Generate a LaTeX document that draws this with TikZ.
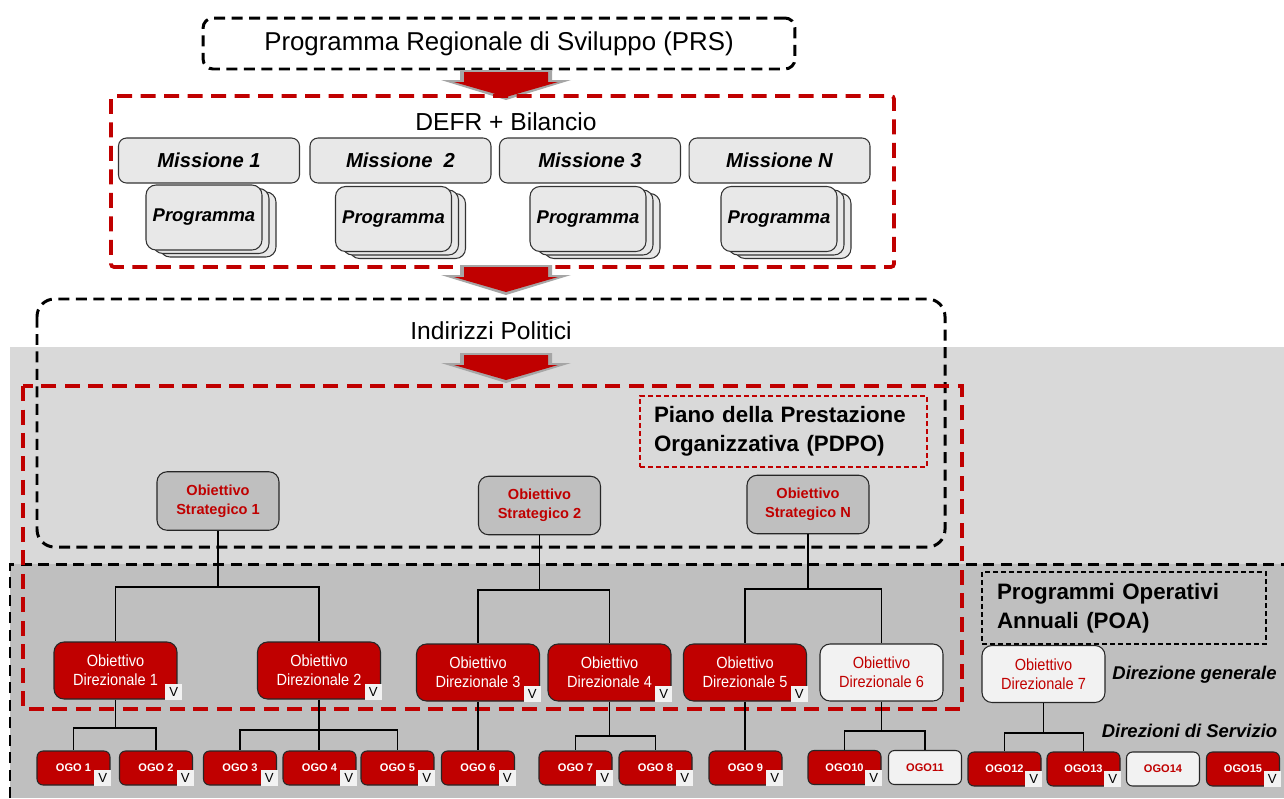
\documentclass[tikz,border=0pt]{standalone}
\usepackage{fontspec}
\setmainfont{Liberation Sans}
\newfontfamily\narrowfont{Liberation Sans}[FakeStretch=0.9]
\definecolor{darkred}{HTML}{C00000}
\definecolor{bandlight}{HTML}{D9D9D9}
\definecolor{banddark}{HTML}{BFBFBF}
\definecolor{boxgray}{HTML}{E8E8E8}
\definecolor{offwhite}{HTML}{F2F2F2}
\definecolor{arrowgray}{HTML}{A6A6A6}

\begin{document}
\begin{tikzpicture}[x=0.02cm, y=-0.02cm,
    blkdash/.style={draw=black, line width=1.7pt, dash pattern=on 0.22cm off 0.13cm},
    reddash/.style={draw=darkred, line width=2.1pt, dash pattern=on 0.3cm off 0.17cm},
    mission/.style={draw=black!80, fill=boxgray, rounded corners=0.16cm, line width=0.6pt,
      minimum width=3.62cm, minimum height=0.9cm, font=\fontsize{11.5}{13}\selectfont\bfseries\itshape},
    prog/.style={draw=black!80, fill=boxgray, rounded corners=0.2cm, line width=0.6pt,
      minimum width=2.32cm, minimum height=1.3cm, font=\fontsize{10.5}{12}\selectfont\bfseries\itshape},
    strat/.style={draw=black!85, fill=banddark, rounded corners=0.2cm, line width=0.6pt,
      minimum width=2.44cm, minimum height=1.17cm, align=center, text=darkred,
      font=\fontsize{8.3}{10.8}\selectfont\bfseries},
    dir/.style={draw=black!85, fill=darkred, text=white, rounded corners=0.2cm, line width=0.6pt,
      minimum width=2.46cm, minimum height=1.14cm, align=center,
      font=\narrowfont\fontsize{9.2}{10.8}\selectfont},
    dirlight/.style={dir, fill=offwhite, text=darkred},
    ogo/.style={draw=black!85, fill=darkred, text=white, rounded corners=0.12cm, line width=0.6pt,
      minimum width=1.46cm, minimum height=0.68cm, font=\fontsize{6.3}{7}\selectfont\bfseries},
    ogolight/.style={ogo, fill=offwhite, text=darkred},
    vbox/.style={fill=offwhite, minimum width=0.34cm, minimum height=0.32cm, inner sep=0pt,
      anchor=south east, font=\fontsize{7.5}{8}\selectfont},
    link/.style={draw=black, line width=0.8pt},
    title/.style={font=\fontsize{14}{16}\selectfont},
    heading/.style={align=left, inner xsep=0.28cm, font=\fontsize{12.7}{16.4}\selectfont\bfseries},
    lvl/.style={font=\fontsize{10.5}{12}\selectfont\bfseries\itshape}]
  \useasboundingbox (0,0) rectangle (1284,798);

  \fill[bandlight] (10,347) rectangle (1284,798);
  \fill[banddark] (10,564) rectangle (1284,798);
  \draw[blkdash] (10,798) -- (10,564) -- (1284,564);

  \node[blkdash, rounded corners=0.2cm, minimum width=11.84cm, minimum height=1.02cm,
    font=\fontsize{14.7}{17}\selectfont] (prs) at (499,43.5) {Programma Regionale di Sviluppo (PRS)};

  \fill[arrowgray] (460,70) -- (552,70) -- (552,80) -- (571,80) -- (506,100) -- (441,80) -- (460,80) -- cycle;
  \fill[darkred] (464,72) -- (548,72) -- (548,82) -- (558,82) -- (506,97) -- (454,82) -- (464,82) -- cycle;

  \draw[reddash, rounded corners=0.06cm] (111,96) rectangle (894,267);
  \node[title] (defr) at (506,122) {DEFR + Bilancio};

  \node[mission] (m1) at (209,160.5) {Missione 1};
  \node[mission] (m2) at (400.5,160.5) {Missione\ \ 2};
  \node[mission] (m3) at (590,160.5) {Missione 3};
  \node[mission] (mn) at (779.5,160.5) {Missione N};

  \node[prog] (p1c) at (218,224.5) {};
  \node[prog] (p1b) at (211,221) {};
  \node[prog] (p1) at (204,217.5) {Programma};
  \node[prog] (p2c) at (407.5,226) {};
  \node[prog] (p2b) at (400.5,222.5) {};
  \node[prog] (p2) at (393.5,219) {Programma};
  \node[prog] (p3c) at (602,226) {};
  \node[prog] (p3b) at (595,222.5) {};
  \node[prog] (p3) at (588,219) {Programma};
  \node[prog] (pnc) at (793,226) {};
  \node[prog] (pnb) at (786,222.5) {};
  \node[prog] (pn) at (779,219) {Programma};

  \fill[arrowgray] (460,265) -- (552,265) -- (552,275) -- (571,275) -- (506,295) -- (441,275) -- (460,275) -- cycle;
  \fill[darkred] (464,267) -- (548,267) -- (548,277) -- (558,277) -- (506,292) -- (454,277) -- (464,277) -- cycle;

  \draw[blkdash, rounded corners=0.35cm] (37,299) rectangle (945,547);
  \node[title] (ind) at (491,331) {Indirizzi Politici};

  \fill[arrowgray] (460,353) -- (552,353) -- (552,363) -- (571,363) -- (506,383) -- (441,363) -- (460,363) -- cycle;
  \fill[darkred] (464,355) -- (548,355) -- (548,365) -- (558,365) -- (506,380) -- (454,365) -- (464,365) -- cycle;

  \draw[reddash] (23,386) rectangle (962,709);
  \node[heading, draw=darkred, line width=0.8pt, dash pattern=on 0.1cm off 0.06cm,
    minimum width=5.74cm, minimum height=1.42cm, text width=5.18cm] (pdpo) at (783.5,431.5)
    {Piano della Prestazione\\Organizzativa (PDPO)};
  \node[heading, draw=black, line width=0.8pt, dash pattern=on 0.1cm off 0.06cm,
    minimum width=5.68cm, minimum height=1.44cm, text width=5.08cm] (poa) at (1124,608)
    {Programmi Operativi\\Annuali (POA)};

  \node[strat] (os1) at (218,501) {Obiettivo\\Strategico 1};
  \node[strat] (os2) at (539.5,505.5) {Obiettivo\\Strategico 2};
  \node[strat] (osn) at (808,504.5) {Obiettivo\\Strategico N};

  \node[dir] (od1) at (115.5,670.5) {Obiettivo\\Direzionale 1};
  \node[dir] (od2) at (319,670.5) {Obiettivo\\Direzionale 2};
  \node[dir] (od3) at (478,672.5) {Obiettivo\\Direzionale 3};
  \node[dir] (od4) at (609.5,672.5) {Obiettivo\\Direzionale 4};
  \node[dir] (od5) at (745,672.5) {Obiettivo\\Direzionale 5};
  \node[dirlight] (od6) at (881.5,672.5) {Obiettivo\\Direzionale 6};
  \node[dirlight] (od7) at (1043.5,674) {Obiettivo\\Direzionale 7};

  \node[lvl] (dg) at (1194.5,675) {Direzione generale};
  \node[lvl] (ds) at (1189.5,731) {Direzioni di Servizio};

  \node[ogo] (ogo1) at (73.5,768) {OGO 1};
  \node[ogo] (ogo2) at (156,768) {OGO 2};
  \node[ogo] (ogo3) at (240,768) {OGO 3};
  \node[ogo] (ogo4) at (319.5,768) {OGO 4};
  \node[ogo] (ogo5) at (397.5,768) {OGO 5};
  \node[ogo] (ogo6) at (478,768) {OGO 6};
  \node[ogo] (ogo7) at (575.5,768) {OGO 7};
  \node[ogo] (ogo8) at (655.5,768) {OGO 8};
  \node[ogo] (ogo9) at (745.5,768) {OGO 9};
  \node[ogo] (ogo10) at (844.5,767.5) {OGO10};
  \node[ogolight] (ogo11) at (925,767.5) {OGO11};
  \node[ogo] (ogo12) at (1004.5,769) {OGO12};
  \node[ogo] (ogo13) at (1083.5,769) {OGO13};
  \node[ogolight] (ogo14) at (1163,769) {OGO14};
  \node[ogo] (ogo15) at (1243,769) {OGO15};

  \node[vbox] (vd1) at ([xshift=0.1cm,yshift=-0.02cm]od1.south east) {V};
  \node[vbox] (vd2) at ([xshift=0.02cm,yshift=-0.02cm]od2.south east) {V};
  \node[vbox] (vd3) at ([xshift=0.02cm,yshift=-0.02cm]od3.south east) {V};
  \node[vbox] (vd4) at ([xshift=0.02cm,yshift=-0.02cm]od4.south east) {V};
  \node[vbox] (vd5) at ([xshift=0.02cm,yshift=-0.02cm]od5.south east) {V};
  \node[vbox] (v1) at ([xshift=0.02cm,yshift=-0.02cm]ogo1.south east) {V};
  \node[vbox] (v2) at ([xshift=0.02cm,yshift=-0.02cm]ogo2.south east) {V};
  \node[vbox] (v3) at ([xshift=0.02cm,yshift=-0.02cm]ogo3.south east) {V};
  \node[vbox] (v4) at ([xshift=0.02cm,yshift=-0.02cm]ogo4.south east) {V};
  \node[vbox] (v5) at ([xshift=0.02cm,yshift=-0.02cm]ogo5.south east) {V};
  \node[vbox] (v6) at ([xshift=0.02cm,yshift=-0.02cm]ogo6.south east) {V};
  \node[vbox] (v7) at ([xshift=0.02cm,yshift=-0.02cm]ogo7.south east) {V};
  \node[vbox] (v8) at ([xshift=0.02cm,yshift=-0.02cm]ogo8.south east) {V};
  \node[vbox] (v9) at ([xshift=0.02cm,yshift=-0.02cm]ogo9.south east) {V};
  \node[vbox] (v10) at ([xshift=0.02cm,yshift=-0.02cm]ogo10.south east) {V};
  \node[vbox] (v12) at ([xshift=0.02cm,yshift=-0.02cm]ogo12.south east) {V};
  \node[vbox] (v13) at ([xshift=0.02cm,yshift=-0.02cm]ogo13.south east) {V};
  \node[vbox] (v15) at ([xshift=0.02cm,yshift=-0.02cm]ogo15.south east) {V};

  \coordinate (b1) at (218,587);
  \coordinate (b2) at (539.5,590);
  \coordinate (b3) at (808,589);
  \draw[link] (os1.south) -- (b1) -| (od1.north);
  \draw[link] (b1) -| (od2.north);
  \draw[link] (os2.south) -- (b2) -| (od3.north);
  \draw[link] (b2) -| (od4.north);
  \draw[link] (osn.south) -- (b3) -| (od5.north);
  \draw[link] (b3) -| (od6.north);

  \coordinate (c1) at (115.5,728);
  \coordinate (c2) at (319,730);
  \coordinate (c4) at (609.5,736);
  \coordinate (c6) at (881.5,731);
  \coordinate (c7) at (1043.5,733);
  \draw[link] (od1.south) -- (c1) -| (ogo1.north);
  \draw[link] (c1) -| (ogo2.north);
  \draw[link] (od2.south) -- (c2) -| (ogo3.north);
  \draw[link] (c2) -| (ogo5.north);
  \draw[link] (c2) -- (ogo4.north -| c2);
  \draw[link] (od3.south) -- (ogo6.north -| od3.south);
  \draw[link] (od4.south) -- (c4) -| (ogo7.north);
  \draw[link] (c4) -| (ogo8.north);
  \draw[link] (od5.south) -- (ogo9.north -| od5.south);
  \draw[link] (od6.south) -- (c6) -| (ogo10.north);
  \draw[link] (c6) -| (ogo11.north);
  \draw[link] (od7.south) -- (c7) -| (ogo12.north);
  \draw[link] (c7) -| (ogo13.north);
\end{tikzpicture}
\end{document}
